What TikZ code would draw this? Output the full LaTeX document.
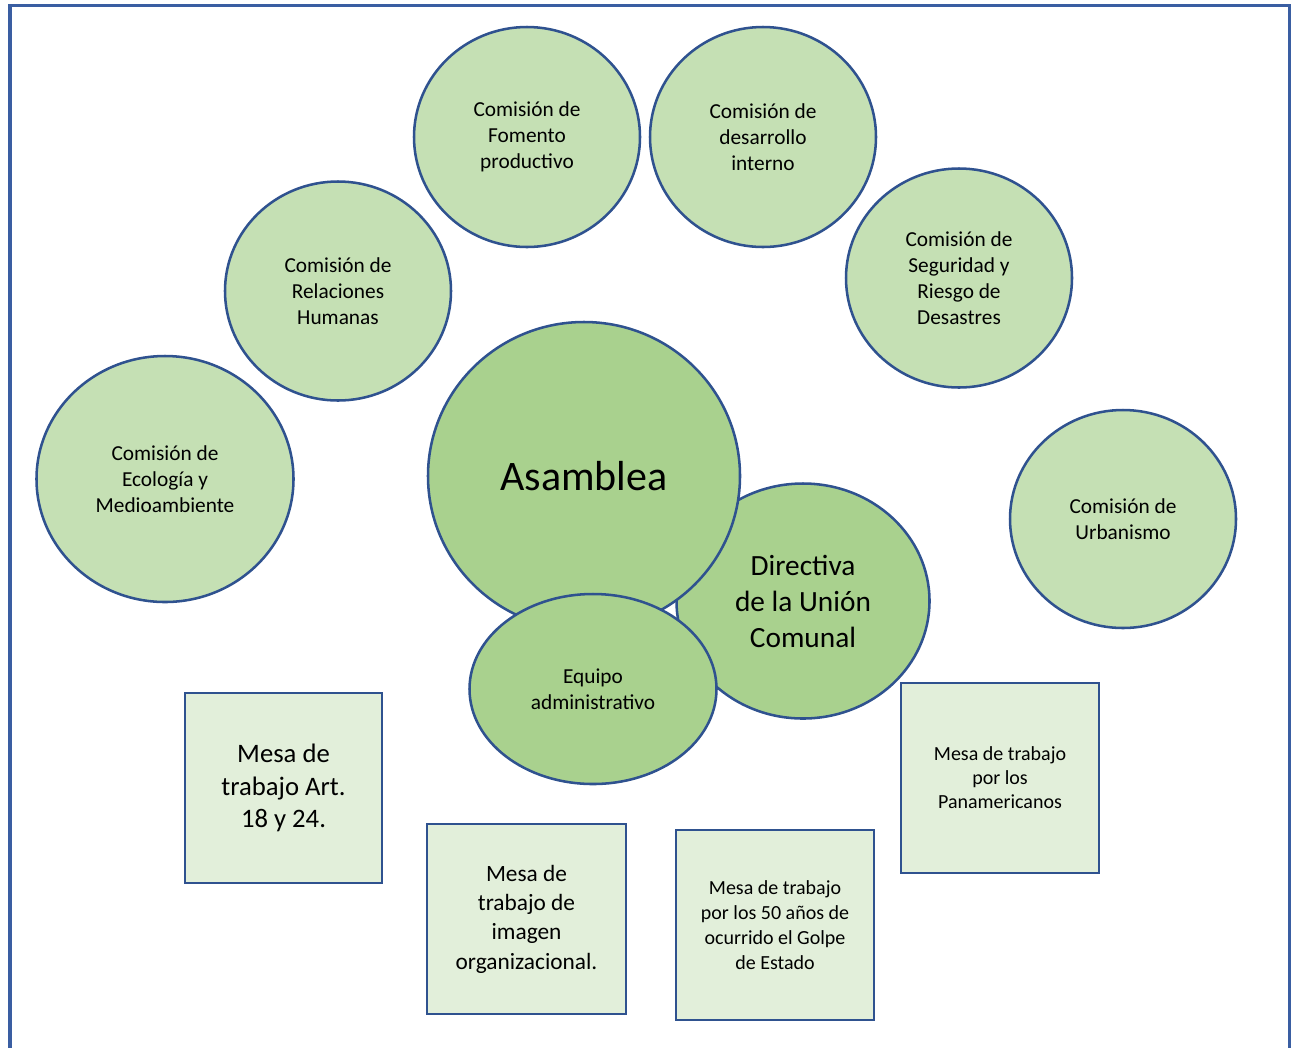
\documentclass[tikz,border=0pt]{standalone}
\usepackage{fontspec}
\setmainfont{Carlito}
\usetikzlibrary{shapes.geometric}
\definecolor{outl}{HTML}{2F528F}
\definecolor{frame}{HTML}{3A5EA2}
\definecolor{bigfill}{HTML}{A9D18E}
\definecolor{smallfill}{HTML}{C5E0B4}
\definecolor{boxfill}{HTML}{E2EFDA}
\tikzset{
  comision/.style={ellipse, draw=outl, line width=1.9pt, fill=smallfill, inner sep=0pt, align=center,
    font=\fontsize{16}{19.5}\selectfont},
  bigcirc/.style={ellipse, draw=outl, line width=1.9pt, fill=bigfill, inner sep=0pt, align=center},
  mesa/.style={rectangle, draw=outl, line width=1.9pt, fill=boxfill, inner sep=0pt, align=center},
}
\begin{document}
\begin{tikzpicture}[x=0.75pt,y=-0.75pt]
\useasboundingbox (0,0) rectangle (1291,1047);
\begin{scope}
\clip (0,0) rectangle (1291,1047);
\coordinate (fbl) at (10,1060);
\coordinate (ftl) at (10,5.5);
\coordinate (ftr) at (1290,5.5);
\coordinate (fbr) at (1290,1060);
\draw[frame, line width=2.3pt] (fbl) -- (ftl) -- (ftr) -- (fbr);
\end{scope}

% Comisiones
\node[comision, minimum width=226*0.75pt, minimum height=220*0.75pt] (fom) at (527,137) {Comisión de\\Fomento\\productivo};
\node[comision, minimum width=226*0.75pt, minimum height=220*0.75pt] (des) at (763,137) {Comisión de\\desarrollo\\interno};
\node[comision, minimum width=226*0.75pt, minimum height=219*0.75pt] (seg) at (959,278) {Comisión de\\Seguridad y\\Riesgo de\\Desastres};
\node[comision, minimum width=226*0.75pt, minimum height=219*0.75pt] (rel) at (338,291) {Comisión de\\Relaciones\\Humanas};
\node[comision, minimum width=257*0.75pt, minimum height=246*0.75pt] (eco) at (165,479) {Comisión de\\Ecología y\\Medioambiente};
\node[comision, minimum width=226*0.75pt, minimum height=218*0.75pt] (urb) at (1123,519) {Comisión de\\Urbanismo};

% Centro
\node[bigcirc, minimum width=253*0.75pt, minimum height=235*0.75pt, font=\fontsize{22}{27}\selectfont] (dir) at (803,601) {Directiva\\de la Unión\\Comunal};
\node[bigcirc, minimum width=312*0.75pt, minimum height=308*0.75pt, font=\fontsize{31.5}{38}\selectfont] (asa) at (584,476) {Asamblea};
\node[bigcirc, minimum width=247*0.75pt, minimum height=190*0.75pt, font=\fontsize{16}{19.5}\selectfont] (equ) at (593,689) {Equipo\\administrativo};

% Mesas
\node[mesa, minimum width=197*0.75pt, minimum height=190*0.75pt, font=\fontsize{20}{24.5}\selectfont] (art) at (283.5,788) {Mesa de\\trabajo Art.\\18 y 24.};
\node[mesa, minimum width=199*0.75pt, minimum height=190*0.75pt, font=\fontsize{17.5}{22}\selectfont] (ima) at (526.5,919) {Mesa de\\trabajo de\\imagen\\organizacional.};
\node[mesa, minimum width=198*0.75pt, minimum height=190*0.75pt, font=\fontsize{15}{18.6}\selectfont] (cin) at (775,925) {Mesa de trabajo\\por los 50 años de\\ocurrido el Golpe\\de Estado};
\node[mesa, minimum width=198*0.75pt, minimum height=190*0.75pt, font=\fontsize{15}{18}\selectfont] (pan) at (1000,778) {Mesa de trabajo\\por los\\Panamericanos};
\end{tikzpicture}
\end{document}
